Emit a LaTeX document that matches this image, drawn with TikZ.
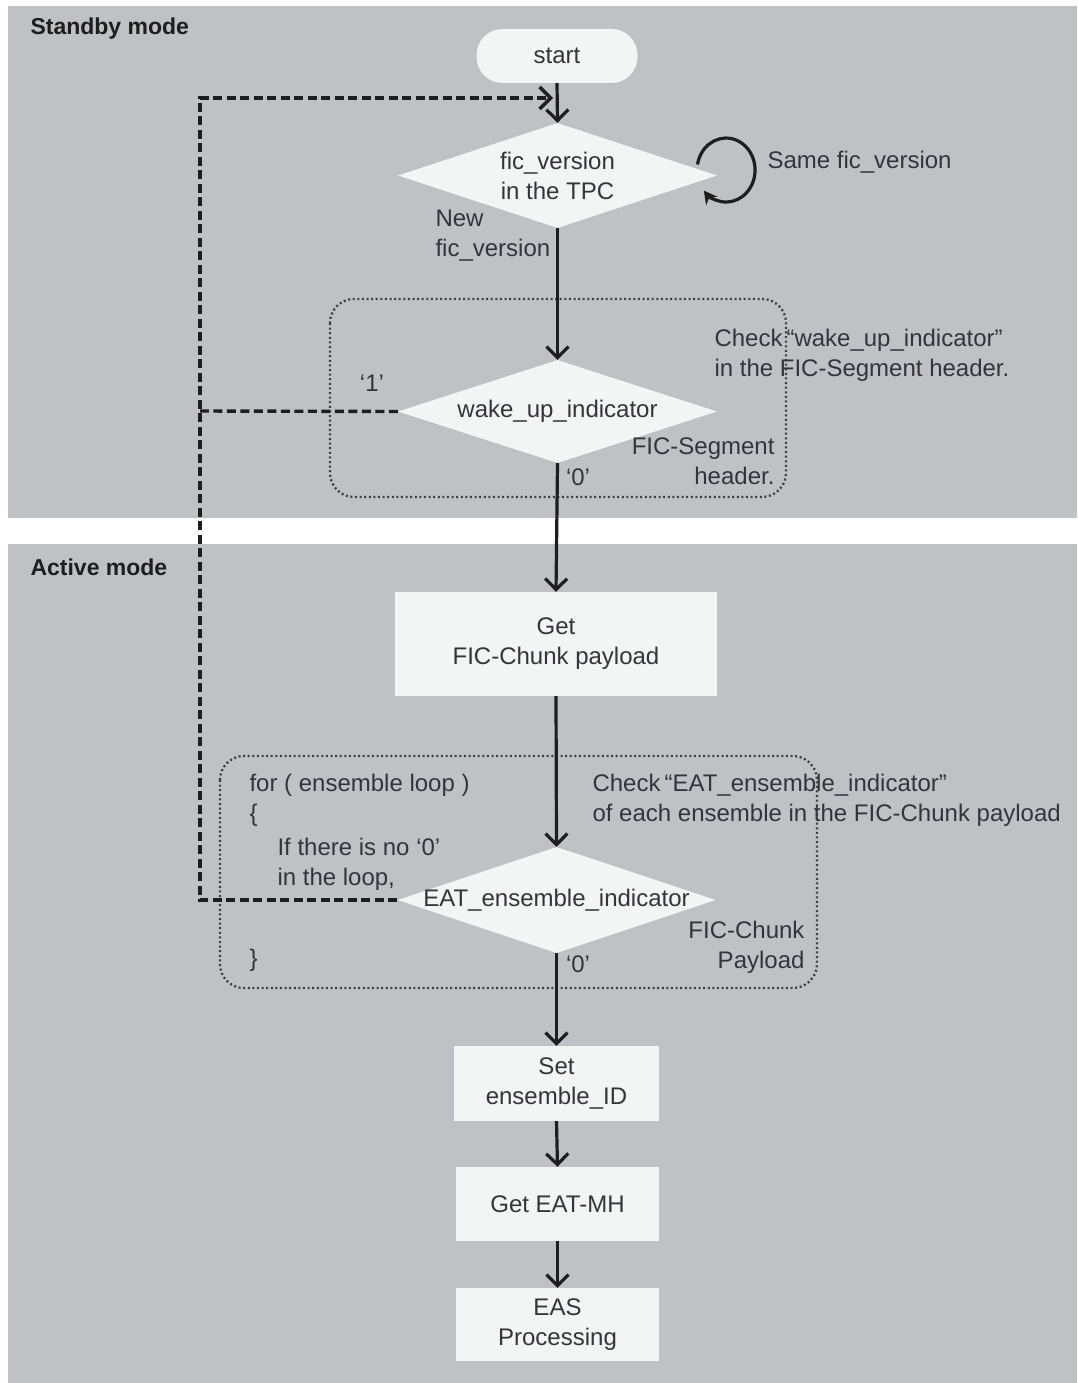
\documentclass[tikz,border=0pt]{standalone}
\usepackage{fontspec}
\setmainfont{Liberation Sans}
\usetikzlibrary{arrows.meta,shapes.geometric}
\definecolor{bg}{RGB}{192,193,197}
\definecolor{boxc}{RGB}{243,244,244}
\definecolor{ink}{RGB}{30,30,30}
\definecolor{txtc}{RGB}{52,52,58}
\begin{document}
\begin{tikzpicture}[x=1pt,y=-1pt,
  every node/.style={font=\fontsize{24}{30}\selectfont, text=txtc},
  proc/.style={fill=boxc, draw=none, inner sep=0pt, align=center},
  dia/.style={diamond, fill=boxc, draw=none, inner sep=0pt, minimum width=319pt, minimum height=105pt},
  flow/.style={draw=ink, line width=3.2pt, -{Straight Barb[length=11pt,width=22pt]}},
  back/.style={draw=ink, line width=3.4pt, dash pattern=on 9pt off 4.5pt},
  grp/.style={draw=ink!85, line width=2.3pt, dash pattern=on 2pt off 2.6pt, rounded corners=24pt},
  modelbl/.style={anchor=west, font=\bfseries\fontsize{23}{30}\selectfont, text=ink},
]
\useasboundingbox (0,0) rectangle (1077,1383);
\fill[white] (0,0) rectangle (1077,1383);
\fill[bg] (8,6) rectangle (1077,518);
\fill[bg] (8,544) rectangle (1077,1383);

\node[modelbl] (sm) at (27,29) {Standby mode};
\node[modelbl] (am) at (27,567) {Active mode};

% dotted groups
\draw[grp] (330,299) rectangle (786,497);
\draw[grp] (220,756) rectangle (817,988);

% nodes
\node[proc, rounded corners=26pt, minimum width=161pt, minimum height=54pt] (start) at (557,56) {start};
\node[dia] (d1) at (557.5,175.5) {};
\node[align=center] (d1t) at (d1) {fic\_version\\in the TPC};
\node[dia, minimum height=103pt] (d2) at (557.5,411.5) {};
\node (d2t) at (d2) {wake\_up\_indicator};
\node[proc, minimum width=322pt, minimum height=104pt] (b1) at (556,644) {Get\\FIC-Chunk payload};
\node[dia, minimum width=318pt, minimum height=106pt] (d3) at (556.5,900) {};
\node (d3t) at (d3) {EAT\_ensemble\_indicator};
\node[proc, minimum width=205pt, minimum height=75pt] (b2) at (556.5,1083.5) {Set\\ensemble\_ID};
\node[proc, minimum width=203pt, minimum height=74pt] (b3) at (557.5,1204) {Get EAT-MH};
\node[proc, minimum width=203pt, minimum height=73pt] (b4) at (557.5,1324.5) {EAS\\Processing};

% labels
\node[anchor=west, align=left] (newv) at (432,236) {New\\fic\_version};
\node[anchor=west] (same) at (764,162) {Same fic\_version};
\node (one) at (372,383) {‘1’};
\node[anchor=west, align=left] (chk1) at (711,355) {Check\,“wake\_up\_indicator”\\in the FIC-Segment header.};
\node[anchor=east, align=right] (seg) at (778,461) {FIC-Segment\\header.};
\node (zero1) at (578,477) {‘0’};
\node[anchor=west, align=left] (forl) at (246,800) {for ( ensemble loop )\\\{};
\node[anchor=west, align=left] (ifl) at (274,864) {If there is no ‘0’\\in the loop,};
\node[anchor=west] (closeb) at (246,960) {\}};
\node[anchor=west, align=left] (chk2) at (589,800) {Check\,“EAT\_ensemble\_indicator”\\of each ensemble in the FIC-Chunk payload};
\node[anchor=east, align=right] (chunk) at (808,947) {FIC-Chunk\\Payload};
\node (zero2) at (578,964) {‘0’};

% feedback dashed path
\coordinate (cL) at (200,900);
\coordinate (cM) at (200,411);
\coordinate (cT) at (200,98);
\coordinate (cE) at (553,98);
\draw[back, -{Straight Barb[length=11pt,width=22pt]}] (d3.west) -- (cL) -- (cT) -- (cE);
\draw[back] (d2.west) -- (cM);

% main flow
\draw[flow] (start.south) -- (d1.north);
\draw[flow] (d1.south) -- (d2.north);
\draw[flow] (d2.south) -- (b1.north);
\draw[flow] (b1.south) -- (d3.north);
\draw[flow] (d3.south) -- (b2.north);
\draw[flow] (b2.south) -- (b3.north);
\draw[flow] (b3.south) -- (b4.north);

% self loop
\coordinate (lp) at (697.5,164.5);
\draw[draw=ink, line width=3.2pt, -{Stealth[length=13pt,width=14pt]}] (lp) arc[start angle=170, end angle=-140, x radius=29pt, y radius=32pt];
\end{tikzpicture}
\end{document}
